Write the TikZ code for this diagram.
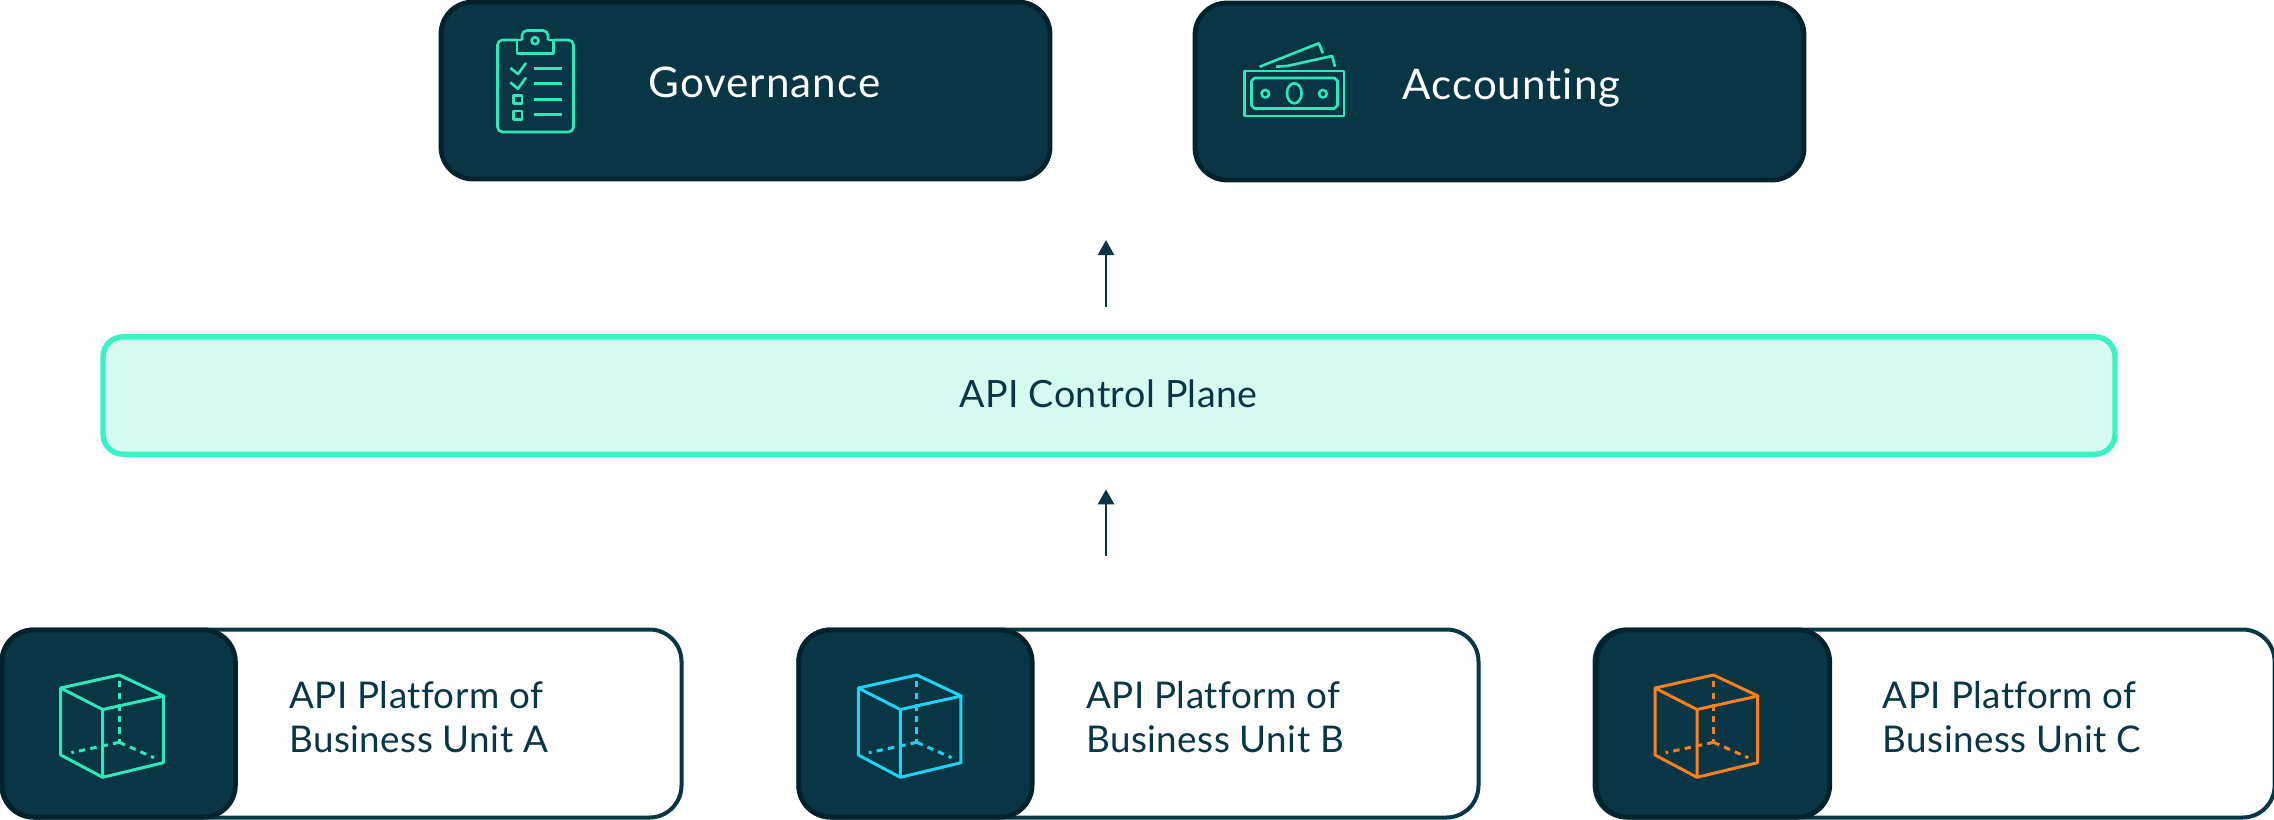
\documentclass[tikz,border=0pt]{standalone}
\usepackage{fontspec}
\setmainfont{Lato}
\newfontfamily\topfont[LetterSpace=2.4,Ligatures={NoCommon}]{Lato}
\newfontfamily\darkfont[LetterSpace=1.2,Ligatures={NoCommon}]{Lato}
\usetikzlibrary{arrows.meta}
\definecolor{deep}{HTML}{083644}
\definecolor{deeper}{HTML}{02222C}
\definecolor{mint}{HTML}{2DE8B8}
\definecolor{planeline}{HTML}{3AF3C4}
\definecolor{planefill}{HTML}{D6FBF1}
\definecolor{skyc}{HTML}{1DD3F5}
\definecolor{orangec}{HTML}{FF7F1E}
\tikzset{
  darkbox/.style={draw=deeper,fill=deep,line width=2.4pt,rounded corners=16pt,outer sep=0pt,inner sep=0pt},
  whitebox/.style={draw=deep,fill=white,line width=2pt,rounded corners=16pt,outer sep=0pt,inner sep=0pt,minimum width=340pt,minimum height=94pt},
  unitsquare/.style={darkbox,minimum width=116.7pt,minimum height=93.6pt},
  topbox/.style={darkbox,minimum width=304.5pt,minimum height=88.5pt},
  planebox/.style={draw=planeline,fill=planefill,line width=2.7pt,rounded corners=10pt,outer sep=0pt,inner sep=0pt,minimum width=1006pt,minimum height=58.7pt},
  toplabel/.style={text=white,font=\topfont\fontsize{21.1pt}{24pt}\selectfont,anchor=base west,inner sep=0pt},
  darklabel/.style={text=deep,font=\darkfont\fontsize{18.4pt}{22.35pt}\selectfont,inner sep=0pt},
  planelabel/.style={text=deep,font=\darkfont\fontsize{18.8pt}{22.35pt}\selectfont,inner sep=0pt},
  icon/.style={draw=mint,line width=1.3pt,line join=round},
  icondash/.style={dash pattern=on 3.2pt off 2.6pt},
  flow/.style={draw=deep,line width=1.2pt,-{Triangle[length=7.5pt,width=8pt]}},
  cubeicon/.pic={
    \draw[line width=1.5pt,line join=round] (60.7,688)--(119.2,675)--(163.8,696)--(102.7,709.5)--cycle
      (102.7,709.5)--(102.7,777.3)--(60.7,755)--(60.7,688)
      (102.7,777.3)--(163.3,762.7)--(163.3,696);
    \draw[line width=1.5pt,icondash] (119.2,681)--(119.2,742.3);
    \draw[line width=1.5pt,icondash] (119.2,742.3)--(71.4,752.7);
    \draw[line width=1.5pt,icondash] (119.2,742.3)--(154,757.7);
  }
}
\begin{document}
\begin{tikzpicture}[x=0.5pt,y=-0.5pt]
\useasboundingbox (0,0) rectangle (2274,819);

% top boxes
\node[topbox] (gov) at (745.5,90.5) {};
\node[topbox] (acc) at (1499.5,91.5) {};
\node[toplabel] (govt) at (648,97.5) {Governance};
\node[toplabel] (acct) at (1402,99) {Accounting};

% clipboard icon
\draw[icon,rounded corners=2.5pt] (517,40)--(497.5,40)--(497.5,132)--(573.5,132)--(573.5,40)--(553.5,40);
\draw[icon] (517,40)--(517,53.3)--(553.5,53.3)--(553.5,40)--(548,40);
\draw[icon,rounded corners=2.5pt] (522,40)--(522,30.5)--(548,30.5)--(548,40);
\draw[icon] (517,40)--(522,40);
\draw[icon] (535,40.7) ellipse [x radius=3.5,y radius=3.5];
\draw[icon] (510.4,68)--(518,74)--(526,63);
\draw[icon] (510.4,82.5)--(518,88.7)--(526,77.5);
\draw[icon] (534,68.3)--(562,68.3) (534,83.3)--(562,83.3) (534,99.3)--(562,99.3) (534,114.3)--(562,114.3);
\draw[icon] (513.5,95.5) rectangle (522,103.7);
\draw[icon] (513.5,111) rectangle (522,119.3);

% money icon
\draw[icon] (1244.5,71) rectangle (1344,116);
\draw[icon] (1254.5,78)--(1334.5,78)--(1337.5,81)--(1337.5,105.5)--(1334.5,108.5)--(1254.5,108.5)--(1251.5,105.5)--(1251.5,81)--cycle;
\draw[icon] (1294.3,93.3) ellipse [x radius=7.3,y radius=10];
\draw[icon] (1265.3,93.7) ellipse [x radius=3.8,y radius=3.8];
\draw[icon] (1322.9,93.7) ellipse [x radius=3.8,y radius=3.8];
\draw[icon] (1259.6,66.7)--(1318.8,43.3)--(1322.9,53.3);
\draw[icon] (1276,66.7)--(1287,66)--(1332,56)--(1335,66.7);

% control plane
\node[planebox] (plane) at (1109,395.5) {};
\node[planelabel,anchor=base] (planet) at (1108.5,407.5) {API Control Plane};

% arrows
\coordinate (uptail) at (1106,306.7);
\coordinate (uptip) at (1106,240);
\coordinate (lowtail) at (1106,556);
\coordinate (lowtip) at (1106,489.3);
\draw[flow] (uptail) -- (uptip);
\draw[flow] (lowtail) -- (lowtip);

% unit A
\node[whitebox] (ua) at (341.5,723.5) {};
\node[unitsquare] (sa) at (118.7,723.5) {};
\pic[color=mint] {cubeicon};
\node[darklabel,anchor=west,align=left] (ta) at (289,717) {API Platform of\\Business Unit A};

% unit B
\node[whitebox] (ub) at (1138.5,723.5) {};
\node[unitsquare] (sb) at (915.4,723.5) {};
\pic[color=skyc] at (797.6,0) {cubeicon};
\node[darklabel,anchor=west,align=left] (tb) at (1086,717) {API Platform of\\Business Unit B};

% unit C
\node[whitebox] (uc) at (1934.6,723.5) {};
\node[unitsquare] (sc) at (1713,723.5) {};
\pic[color=orangec] at (1594.3,0) {cubeicon};
\node[darklabel,anchor=west,align=left] (tc) at (1882.5,717) {API Platform of\\Business Unit C};
\end{tikzpicture}
\end{document}
